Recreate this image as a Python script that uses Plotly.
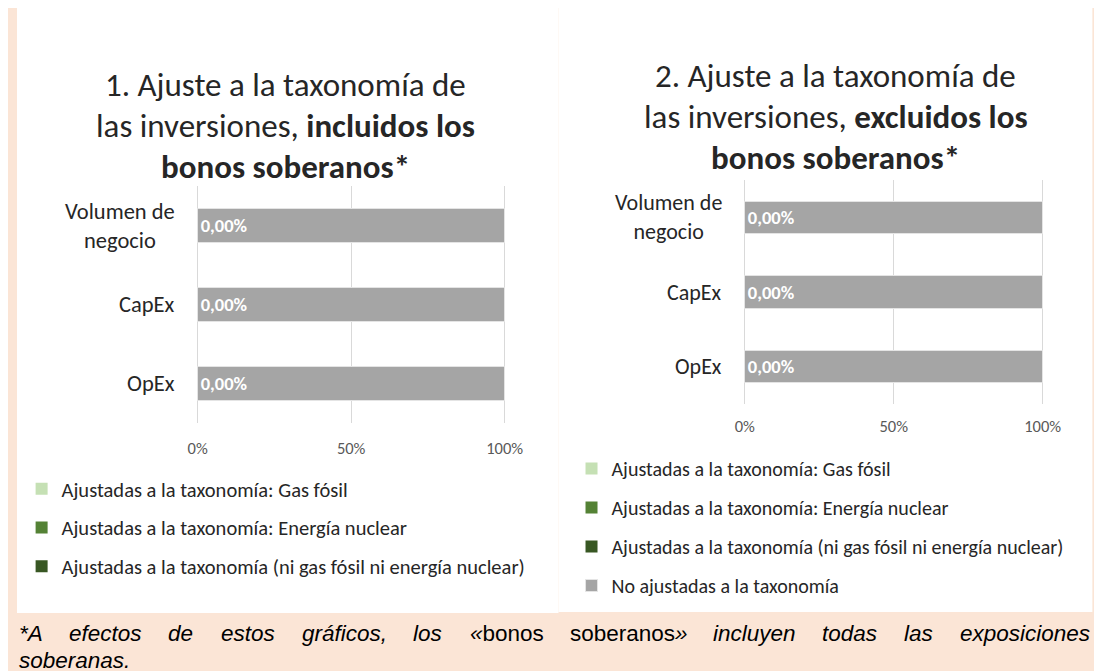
import plotly.graph_objects as go

# ---------------- data ----------------
categories = ["Volumen de negocio", "CapEx", "OpEx"]
category_labels = ["Volumen de<br>negocio", "CapEx", "OpEx"]

series_names = [
    "Ajustadas a la taxonomía: Gas fósil",
    "Ajustadas a la taxonomía: Energía nuclear",
    "Ajustadas a la taxonomía (ni gas fósil ni energía nuclear)",
    "No ajustadas a la taxonomía",
]
series_colors = ["#C5E0B4", "#548235", "#385723", "#A5A5A5"]

incl_gas = [0.0, 0.0, 0.0]
incl_nuclear = [0.0, 0.0, 0.0]
incl_other = [0.0, 0.0, 0.0]
incl_not_aligned = [100.0, 100.0, 100.0]

excl_gas = [0.0, 0.0, 0.0]
excl_nuclear = [0.0, 0.0, 0.0]
excl_other = [0.0, 0.0, 0.0]
excl_not_aligned = [100.0, 100.0, 100.0]

x_ticks = [0, 50, 100]
x_tick_labels = ["0%", "50%", "100%"]

title_left = ["1. Ajuste a la taxonomía de",
              "las inversiones, <b>incluidos los</b>",
              "<b>bonos soberanos*</b>"]
title_right = ["2. Ajuste a la taxonomía de",
               "las inversiones, <b>excluidos los</b>",
               "<b>bonos soberanos*</b>"]

footnote_line1 = [("*A", True), ("efectos", True), ("de", True), ("estos", True),
                  ("gráficos,", True), ("los", True), ("«bonos", False),
                  ("soberanos»", False), ("incluyen", True), ("todas", True),
                  ("las", True), ("exposiciones", True)]
footnote_line2 = "soberanas."

# ---------------- layout helpers ----------------
# observed placement of the figure in the screenshot:
#   screen_x = SX * fig_x + OX ; screen_y = fig_y + OY
SX, OX, OY = 0.975, 18.4, 8
W, H = 1112, 671
PEACH = "#FBE5D6"
CHART_FONT = "Carlito, Lato, sans-serif"
TEXT_DARK = "#262626"
TICK_GRAY = "#595959"


def px(xs):
    return max(0.0, min(1.0, ((xs - OX) / SX) / W))


def py(ys):
    return max(0.0, min(1.0, 1 - (ys - OY) / H))


def fmt_pct(v):
    return f"{v:.2f}%".replace(".", ",")


fig = go.Figure()

panels = [
    dict(vals=[incl_gas, incl_nuclear, incl_other, incl_not_aligned],
         xa="x", ya="y", legend="legend", show=[True, True, True, False]),
    dict(vals=[excl_gas, excl_nuclear, excl_other, excl_not_aligned],
         xa="x2", ya="y2", legend="legend2", show=[True, True, True, True]),
]

for p in panels:
    aligned_total = [a + b + c for a, b, c in zip(*p["vals"][:3])]
    for i, (name, color, vals) in enumerate(zip(series_names, series_colors, p["vals"])):
        is_last = i == 3
        fig.add_trace(go.Bar(
            y=categories, x=vals, name=name, orientation="h",
            marker=dict(color=color,
                        line=dict(color="#E4E4E4" if is_last else color,
                                  width=1 if is_last else 0)),
            xaxis=p["xa"], yaxis=p["ya"], legend=p["legend"],
            legendgroup=p["legend"] + str(i), showlegend=p["show"][i],
            text=[fmt_pct(v) for v in aligned_total] if is_last else None,
            textposition="inside" if is_last else "none",
            insidetextanchor="start",
            textangle=0,
            textfont=dict(color="white", size=18.5, family=CHART_FONT, weight="bold"),
            hoverinfo="skip",
        ))

axis_common_x = dict(range=[-0.4, 100.4], tickvals=x_ticks, ticktext=x_tick_labels,
                     showgrid=True, gridcolor="#D9D9D9", gridwidth=1.3,
                     zeroline=False, showline=False, ticks="",
                     tickfont=dict(family=CHART_FONT, size=16.5, color=TICK_GRAY))
axis_common_y = dict(type="category", range=[2.5, -0.5], showticklabels=False,
                     showgrid=False, zeroline=False, showline=False, ticks="")

fig.update_layout(
    width=W, height=H, autosize=False,
    margin=dict(l=0, r=0, t=0, b=0),
    paper_bgcolor=PEACH, plot_bgcolor="rgba(0,0,0,0)",
    barmode="stack", bargap=0.57,
    showlegend=True,
    xaxis=dict(domain=[px(197.5), px(506.5)], anchor="y", ticklabelstandoff=13, **axis_common_x),
    yaxis=dict(domain=[py(423.3), py(186)], anchor="x", **axis_common_y),
    xaxis2=dict(domain=[px(743.8), px(1043.5)], anchor="y2", ticklabelstandoff=10, **axis_common_x),
    yaxis2=dict(domain=[py(404), py(180)], anchor="x2", **axis_common_y),
    legend=dict(x=px(62) - 40 / W, y=py(469), xanchor="left", yanchor="top",
                traceorder="grouped", tracegroupgap=9, bgcolor="rgba(0,0,0,0)",
                font=dict(family=CHART_FONT, size=20.5, color=TEXT_DARK)),
    legend2=dict(x=px(611) - 40 / W, y=py(449), xanchor="left", yanchor="top",
                 traceorder="grouped", tracegroupgap=10, bgcolor="rgba(0,0,0,0)",
                 font=dict(family=CHART_FONT, size=20, color=TEXT_DARK)),
    shapes=[
        dict(type="rect", xref="paper", yref="paper", layer="below",
             x0=px(4), x1=px(559), y0=py(613), y1=py(4),
             fillcolor="white", line=dict(width=0)),
        dict(type="rect", xref="paper", yref="paper", layer="below",
             x0=px(559), x1=px(1092), y0=py(612), y1=py(4),
             fillcolor="white", line=dict(width=0)),
    ],
)

annotations = []
# titles, one annotation per line
for lines, cx, ys in [(title_left, 286, [85, 126, 167]), (title_right, 836, [76, 117, 158])]:
    for line, yy in zip(lines, ys):
        annotations.append(dict(text=line, xref="paper", yref="paper", x=px(cx), y=py(yy),
                                xanchor="center", yanchor="middle", showarrow=False,
                                font=dict(family=CHART_FONT, size=33, color=TEXT_DARK)))

# category labels
for yref, xr, size in [("y", 178, 22.5), ("y2", 724, 22)]:
    for cat, lab in zip(categories, category_labels):
        annotations.append(dict(text=lab, xref="paper", yref=yref, x=px(xr), y=cat,
                                xanchor="right", yanchor="middle", align="center",
                                showarrow=False,
                                font=dict(family=CHART_FONT, size=size, color=TEXT_DARK)))

# footnote, line 1 justified using Arial metrics (in figure pixels)
ARIAL = {" ": 278, "*": 389, "A": 667, "a": 556, "b": 556, "c": 500, "d": 556, "e": 556,
         "f": 278, "g": 556, "i": 222, "l": 222, "n": 556, "o": 556, "p": 556, "r": 333,
         "s": 500, "t": 278, "u": 556, "x": 500, "y": 500, ",": 278, ".": 278,
         "«": 556, "»": 556, "á": 556, "í": 278, "ó": 556}
FN_SIZE = 22.5
FN_FONT = "Liberation Sans, Arial, sans-serif"


def word_w(w):
    return sum(ARIAL.get(ch, 556) for ch in w) / 1000 * FN_SIZE


left_f = px(19) * W
right_f = px(1087) * W
total_words = sum(word_w(w) for w, _ in footnote_line1)
gap = (right_f - left_f - total_words) / (len(footnote_line1) - 1)
cur = left_f
for w, ital in footnote_line1:
    if w == "«bonos":
        txt = "<i>«</i>bonos"
    elif w == "soberanos»":
        txt = "soberanos<i>»</i>"
    else:
        txt = f"<i>{w}</i>" if ital else w
    annotations.append(dict(text=txt, xref="paper", yref="paper", x=max(0.0, (cur - 2) / W),
                            y=py(633.5), xanchor="left", yanchor="middle", showarrow=False,
                            font=dict(family=FN_FONT, size=FN_SIZE, color="#000000")))
    cur += word_w(w) + gap
annotations.append(dict(text=f"<i>{footnote_line2}</i>", xref="paper", yref="paper",
                        x=0, y=py(660.5), xanchor="left", yanchor="middle", showarrow=False,
                        font=dict(family=FN_FONT, size=FN_SIZE, color="#000000")))

fig.update_layout(annotations=annotations)

fig.write_html("out.html", config={"responsive": False})
